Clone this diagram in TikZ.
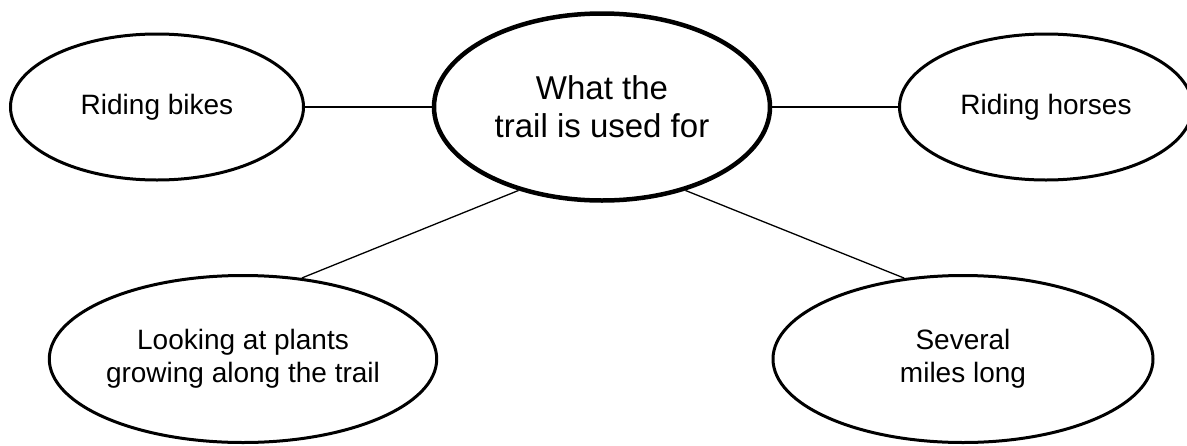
\documentclass[tikz,border=0pt]{standalone}
\usepackage{fontspec}
\setmainfont{Liberation Sans}
\usetikzlibrary{shapes.geometric}
\begin{document}
\begin{tikzpicture}[x=1pt,y=-1pt,
    bubble/.style={draw,ellipse,line width=3pt,inner sep=0pt,align=center,
      font=\fontsize{28}{33}\selectfont},
    topic/.style={bubble,line width=4.5pt,font=\fontsize{33}{38}\selectfont},
    spoke/.style={line width=1.3pt}]
      \useasboundingbox (0,0) rectangle (1187,445);
      \draw (602,107) node[topic,minimum width=336pt,minimum height=187pt] (topic) {What the\\trail is used for};
      \draw (157,107) node[bubble,minimum width=293pt,minimum height=146pt] (bikes) {Riding bikes};
      \draw (1046,107) node[bubble,minimum width=293pt,minimum height=146pt] (horses) {Riding horses};
      \draw (243,359) node[bubble,minimum width=384pt,minimum height=167pt] (plants) {Looking at plants\\growing along the trail};
      \draw (963,359) node[bubble,minimum width=380pt,minimum height=167pt] (miles) {Several\\miles long};
      \draw[spoke] (bikes.east) -- (topic.west);
      \draw[spoke] (topic.east) -- (horses.west);
      \draw[spoke] (topic.225) -- (plants.54);
      \draw[spoke] (topic.315) -- (miles.126);
    \end{tikzpicture}
\end{document}
